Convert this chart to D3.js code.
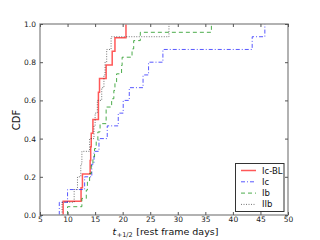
<!DOCTYPE html>
<html><head><meta charset="utf-8">
<script src="https://cdn.jsdelivr.net/npm/d3@7"></script>
<style>body{margin:0;background:#fff}svg{display:block}text{font-family:"DejaVu Sans",sans-serif}</style>
</head><body><svg id="c" width="320" height="240"></svg>
<script>
const icbl = [9.2, 12.45, 12.7, 14.1, 14.2, 14.3, 14.6, 15.6, 15.6, 15.8, 17.0, 18.1, 18.6, 20.6];
const ic = [8.5, 10.0, 13.1, 14.4, 14.8, 15.7, 17.2, 19.2, 20.1, 21.2, 23.7, 24.7, 27.3, 43.5, 45.8];
const ib = [10.0, 12.6, 13.4, 13.6, 14.0, 14.3, 14.6, 14.9, 15.2, 15.5, 15.9, 17.0, 17.0, 18.0, 18.4, 18.6, 18.9, 19.8, 19.9, 21.7, 22.0, 23.2, 36.1];
const iib = [9.0, 11.2, 11.8, 12.4, 12.6, 14.0, 14.8, 15.0, 15.4, 16.2, 16.6, 16.8, 17.1, 17.9, 28.4];
const seriesNames = ["Ic-BL", "Ic", "Ib", "IIb"];
const xTicks = [5, 10, 15, 20, 25, 30, 35, 40, 45, 50];
const yTicks = [0.0, 0.2, 0.4, 0.6, 0.8, 1.0];

const L = 40, R = 288, T = 24, B = 215;
const svg = d3.select("#c");
const x = d3.scaleLinear().domain([5, 50]).range([L, R]);
const y = d3.scaleLinear().domain([0, 1]).range([B, T]);

const styles = [
  {data: icbl, color: "#ff2020", op: 0.75, w: 1.5, dash: null},
  {data: ic, color: "#2020ff", op: 0.75, w: 1, dash: "4,2,1,2"},
  {data: ib, color: "#109010", op: 0.75, w: 1, dash: "4,3"},
  {data: iib, color: "#000", op: 0.55, w: 1, dash: "1,1.5"}
];

const g = svg.append("g");
const line = d3.line().x(d => x(d[0])).y(d => y(d[1])).curve(d3.curveStepAfter);
styles.forEach(s => {
  const v = s.data.slice().sort((a, b) => a - b);
  const n = v.length;
  const pts = [[v[0], 0]];
  v.forEach((d, i) => pts.push([d, (i + 1) / n]));
  g.append("path").attr("d", line(pts)).attr("fill", "none")
    .attr("stroke", s.color).attr("stroke-opacity", s.op).attr("stroke-width", s.w)
    .attr("stroke-dasharray", s.dash);
});

// frame
svg.append("rect").attr("x", L).attr("y", T).attr("width", R - L).attr("height", B - T)
  .attr("fill", "none").attr("stroke", "#999").attr("stroke-width", 1.5);

// axes with inward ticks
const xa = d3.axisBottom(x).tickValues(xTicks).tickSize(-3).tickPadding(2).tickFormat(d3.format("d"));
const xg = svg.append("g").attr("transform", `translate(0,${B})`).call(xa);
const xt = d3.axisTop(x).tickValues(xTicks).tickSize(-3).tickFormat("");
const xtg = svg.append("g").attr("transform", `translate(0,${T})`).call(xt);
const ya = d3.axisLeft(y).tickValues(yTicks).tickSize(-3).tickPadding(4).tickFormat(d3.format(".1f"));
const yg = svg.append("g").attr("transform", `translate(${L},0)`).call(ya);
const yr = d3.axisRight(y).tickValues(yTicks).tickSize(-3).tickFormat("");
const yrg = svg.append("g").attr("transform", `translate(${R},0)`).call(yr);
[xg, xtg, yg, yrg].forEach(a => {
  a.select(".domain").remove();
  a.selectAll("line").attr("stroke", "#555");
  a.selectAll("text").attr("font-size", 7.5).attr("fill", "#222").attr("font-family", "DejaVu Sans");
});

// labels
svg.append("text").attr("transform", "translate(20,120) rotate(-90)").attr("text-anchor", "middle")
  .attr("font-size", 10).attr("fill", "#111").text("CDF");
// x label built from separate pieces laid out side by side
const pieces = [
  {t: "t", size: 9.5, dy: 0, italic: true},
  {t: "+1/2", size: 6.5, dy: 2, italic: false},
  {t: "\u00a0[rest frame days]", size: 9.5, dy: 0, italic: false}
];
const nodes = pieces.map(p => svg.append("text").attr("y", 235 + p.dy).attr("font-size", p.size)
  .attr("font-style", p.italic ? "italic" : "normal").attr("fill", "#111").text(p.t));
const widths = nodes.map(n => n.node().getComputedTextLength());
let cx = 165 - d3.sum(widths) / 2;
nodes.forEach((n, i) => { n.attr("x", cx); cx += widths[i] + 0.5; });

// legend
const lg = svg.append("g");
lg.append("rect").attr("x", 235.5).attr("y", 163.5).attr("width", 48.5).attr("height", 48)
  .attr("fill", "#fff").attr("stroke", "#333").attr("stroke-width", 1);
styles.forEach((s, i) => {
  const yy = 170.5 + i * 11.3;
  lg.append("line").attr("x1", 241).attr("x2", 256).attr("y1", yy).attr("y2", yy)
    .attr("stroke", s.color).attr("stroke-opacity", s.op).attr("stroke-width", s.w)
    .attr("stroke-dasharray", s.dash);
  lg.append("text").attr("x", 262).attr("y", yy + 3).attr("font-size", 8.5).attr("fill", "#111").text(seriesNames[i]);
});
</script></body></html>
